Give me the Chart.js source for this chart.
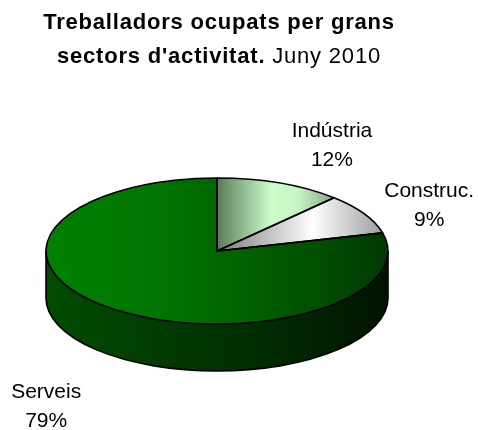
<!DOCTYPE html>
<html>
<head>
<meta charset="utf-8">
<script src="https://cdn.jsdelivr.net/npm/chart.js@4.4.1/dist/chart.umd.min.js"></script>
<style>
    html, body {
        margin: 0;
        padding: 0;
        background: #fff;
    }

    #wrap {
        position: relative;
        width: 478px;
        height: 430px;
    }

    #title {
        position: absolute;
        left: 0;
        top: 5px;
        width: 438px;
        text-align: center;
        font-family: "Liberation Sans", Arial, sans-serif;
        font-size: 22px;
        line-height: 34px;
        letter-spacing: 0.8px;
        color: #000;
    }

    #title b {
        font-weight: bold;
    }
</style>
</head>
<body>
<div id="wrap">
    <canvas id="pieChart" width="478" height="430"></canvas>
    <div id="title">
        <b>Treballadors ocupats per grans</b><br>
        <b>sectors d'activitat.</b> Juny 2010
    </div>
</div>

<script>
// ======================
// DADES
// ======================
const categories = ["Indústria", "Construc.", "Serveis"];
const shares = [12, 9, 79];

// ======================
// ESTIL
// ======================
const tilt = 73 / 171;   // aplanament de l'el·lipse
const depth = 47;        // gruix del pastís

const topStops = [
    [[0.5, "#5b7b5b"], [0.66, "#ccffcc"], [0.74, "#c4f4c4"], [0.87, "#749474"]],
    [[0.5, "#7a7a7a"], [0.78, "#ffffff"], [1, "#969696"]],
    [[0, "#008000"], [0.3, "#007600"], [0.55, "#006400"], [0.8, "#004e00"], [1, "#003800"]]
];

const sideStops = [
    [[0, "#3c5a3c"], [1, "#2a402a"]],
    [[0, "#666666"], [1, "#444444"]],
    [[0, "#004c00"], [0.5, "#003400"], [1, "#001400"]]
];

// offsets de les etiquetes respecte al punt mig de cada sector
const labelOffsets = [[52, -46], [65, -17], [-66, 89]];

function makeGrad(ctx, x0, x1, stops) {
    const g = ctx.createLinearGradient(x0, 0, x1, 0);
    stops.forEach(s => g.addColorStop(s[0], s[1]));
    return g;
}

const total = shares.reduce((a, b) => a + b, 0);

const pie3d = {
    id: "pie3d",

    beforeDatasetsDraw(chart) {

        const ctx = chart.ctx;
        const arcs = chart.getDatasetMeta(0).data;
        const cx = arcs[0].x;
        const cy = arcs[0].y;
        const r = arcs[0].outerRadius;
        const ry = r * tilt;

        // paret lateral (només la meitat del davant)
        arcs.forEach((arc, i) => {

            const a0 = Math.max(arc.startAngle, 0);
            const a1 = Math.min(arc.endAngle, Math.PI);

            if (a1 <= a0) return;

            ctx.save();
            ctx.beginPath();
            ctx.ellipse(cx, cy, r, ry, 0, a0, a1);
            ctx.ellipse(cx, cy + depth, r, ry, 0, a1, a0, true);
            ctx.closePath();
            ctx.fillStyle = makeGrad(ctx, cx - r, cx + r, sideStops[i]);
            ctx.fill();
            ctx.lineWidth = 1.6;
            ctx.strokeStyle = "#000";
            ctx.lineJoin = "round";
            ctx.stroke();
            ctx.restore();
        });

        // cara de dalt
        ctx.save();
        ctx.translate(0, cy);
        ctx.scale(1, tilt);
        ctx.translate(0, -cy);
        arcs.forEach(a => a.draw(ctx));
        ctx.restore();

        // contorns
        ctx.save();
        ctx.lineWidth = 1.6;
        ctx.strokeStyle = "#000";
        ctx.lineJoin = "round";
        arcs.forEach(arc => {
            ctx.beginPath();
            ctx.moveTo(cx, cy);
            ctx.ellipse(cx, cy, r, ry, 0, arc.startAngle, arc.endAngle);
            ctx.closePath();
            ctx.stroke();
        });
        ctx.restore();

        return false;
    },

    afterDraw(chart) {

        const ctx = chart.ctx;
        const arcs = chart.getDatasetMeta(0).data;

        ctx.save();
        ctx.font = "21px 'Liberation Sans', Arial, sans-serif";
        ctx.fillStyle = "#000";
        ctx.textAlign = "center";
        ctx.textBaseline = "alphabetic";

        arcs.forEach((arc, i) => {

            const mid = (arc.startAngle + arc.endAngle) / 2;
            const px = arc.x + arc.outerRadius * Math.cos(mid);
            const py = arc.y + arc.outerRadius * tilt * Math.sin(mid);
            const lx = px + labelOffsets[i][0];
            const ly = py + labelOffsets[i][1];

            const pct = Math.round(shares[i] / total * 100) + "%";

            ctx.fillText(categories[i], lx, ly);
            ctx.fillText(pct, lx, ly + 29);
        });

        ctx.restore();
    }
};

new Chart(
    document.getElementById("pieChart"),
    {
        type: "pie",

        data: {
            labels: categories,

            datasets: [{
                data: shares,

                backgroundColor: (c) => {
                    const area = c.chart.chartArea;
                    if (!area) return "#007000";
                    return makeGrad(c.chart.ctx, area.left, area.right, topStops[c.dataIndex]);
                },

                borderWidth: 0,
                hoverOffset: 0,
                offset: 0
            }]
        },

        options: {
            responsive: false,
            animation: false,
            events: [],

            layout: {
                padding: {
                    left: 46,
                    right: 90,
                    top: 80,
                    bottom: 8
                }
            },

            plugins: {
                legend: {
                    display: false
                },
                tooltip: {
                    enabled: false
                }
            }
        },

        plugins: [pie3d]
    }
);
</script>
</body>
</html>
